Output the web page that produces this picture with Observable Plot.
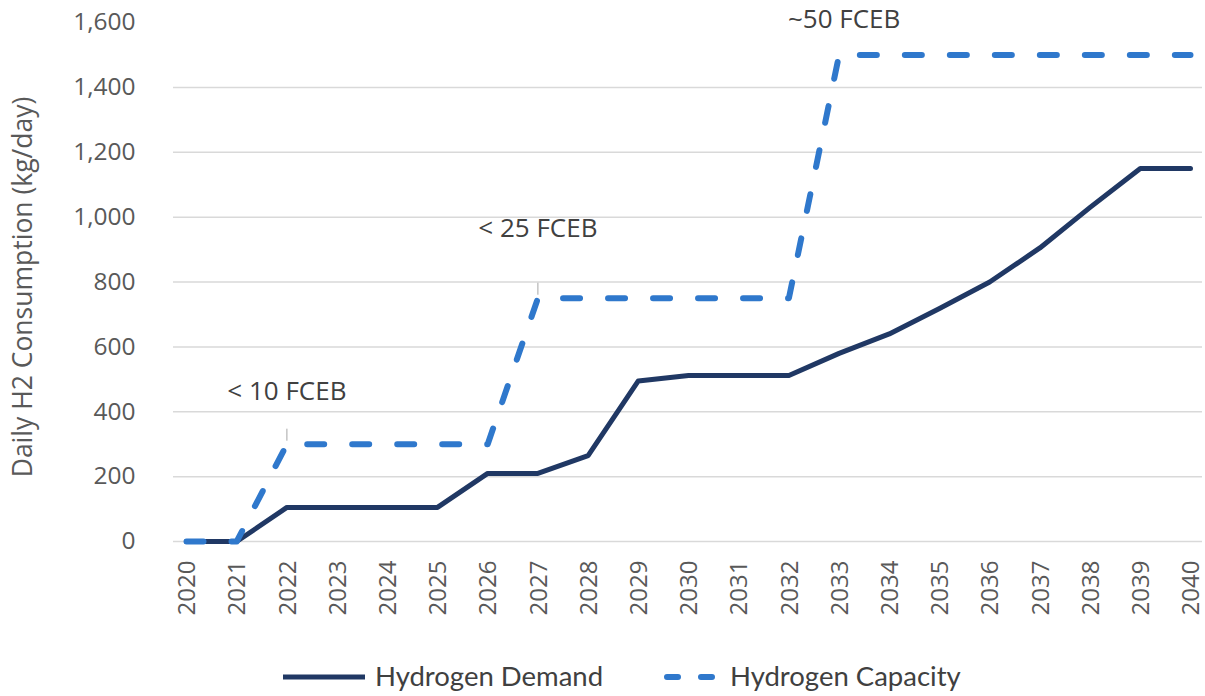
<!DOCTYPE html>
<html><head><meta charset="utf-8">
<script src="https://cdn.jsdelivr.net/npm/d3@7"></script>
<script src="https://cdn.jsdelivr.net/npm/@observablehq/plot@0.6"></script>
<style>
body{margin:0;background:#fff;}
#wrap{position:relative;width:1205px;height:696px;background:#fff;}
.lg{position:absolute;font-family:Lato,sans-serif;font-size:27.5px;line-height:30px;color:#404040;white-space:nowrap;}
.sw{position:absolute;}
</style></head><body>
<div id="wrap"><div id="chart"></div><div id="legend"></div></div>
<script>
const years = [2020,2021,2022,2023,2024,2025,2026,2027,2028,2029,2030,2031,2032,2033,2034,2035,2036,2037,2038,2039,2040];
const demand = [0,0,105,105,105,105,210,210,265,495,512,512,512,580,640,718,800,905,1030,1150,1150];
const capacity = [0,0,300,300,300,300,300,750,750,750,750,750,750,1500,1500,1500,1500,1500,1500,1500,1500];
const yTicks = [0,200,400,600,800,1000,1200,1400,1600];
const seriesNames = ["Hydrogen Demand","Hydrogen Capacity"];
const yTitle = "Daily H2 Consumption (kg/day)";
const notes = [
  {year:2022, value:300, label:"< 10 FCEB"},
  {year:2027, value:750, label:"< 25 FCEB"},
  {year:2033, value:1500, label:"~50 FCEB"}
];
const colors = ["#203864", "#2f78cc"];

const rows = years.map((y,i)=>({year:y, demand:demand[i], capacity:capacity[i]}));
const font = '"Open Sans", sans-serif';

const chart = Plot.plot({
  width:1205, height:640,
  marginLeft:186, marginRight:15, marginTop:22, marginBottom:99,
  style:{fontFamily:font, fontSize:"24px", background:"#fff", color:"#595959"},
  x:{type:"linear", domain:[2020,2040]},
  y:{domain:[0,1600]},
  marks:[
    Plot.ruleY(yTicks.filter(v=>v<1600), {stroke:"#d9d9d9", strokeWidth:1.5, insetLeft:-13, insetRight:-12}),
    Plot.axisY({ticks:yTicks, tickFormat:d3.format(","), tickSize:0, tickPadding:51, label:null, fontSize:24.5, fill:"#595959"}),
    Plot.axisX({ticks:years, tickFormat:d=>String(d), tickRotate:-90, tickSize:0, tickPadding:19, dx:1, label:null, fontSize:24, fill:"#595959"}),
    Plot.text([yTitle], {text:d=>d, frameAnchor:"left", rotate:-90, dx:-163, dy:5, textAnchor:"middle", lineAnchor:"middle", fontSize:26.5, fill:"#595959"}),
    Plot.ruleX(notes.slice(0,2), {x:"year", y1:"value", y2:"value", insetTop:-15, insetBottom:3, stroke:"#a6a6a6", strokeWidth:1}),
    Plot.line(rows, {x:"year", y:"demand", stroke:colors[0], strokeWidth:5, strokeLinejoin:"round"}),
    Plot.line(rows, {x:"year", y:"capacity", stroke:colors[1], strokeWidth:6, strokeDasharray:"17,28", strokeLinecap:"round", strokeLinejoin:"round"}),
    Plot.text([notes[0]], {x:"year", y:"value", text:"label", dy:-53, fontSize:26, fill:"#404040"}),
    Plot.text([notes[1]], {x:"year", y:"value", text:"label", dy:-70, fontSize:26, fill:"#404040"}),
    Plot.text([notes[2]], {x:"year", y:"value", text:"label", dy:-35, dx:5, fontSize:26, fill:"#404040"})
  ]
});
document.getElementById("chart").appendChild(chart);

const lg = document.getElementById("legend");
lg.innerHTML = `
<svg class="sw" style="left:280px;top:670px" width="90" height="14"><line x1="3" y1="7" x2="85" y2="7" stroke="${colors[0]}" stroke-width="5"/></svg>
<span class="lg" style="left:375px;top:661px">${seriesNames[0]}</span>
<svg class="sw" style="left:660px;top:670px" width="60" height="14"><line x1="7" y1="7" x2="55" y2="7" stroke="${colors[1]}" stroke-width="6" stroke-linecap="round" stroke-dasharray="11,23"/></svg>
<span class="lg" style="left:730px;top:661px">${seriesNames[1]}</span>`;
</script>
</body></html>
